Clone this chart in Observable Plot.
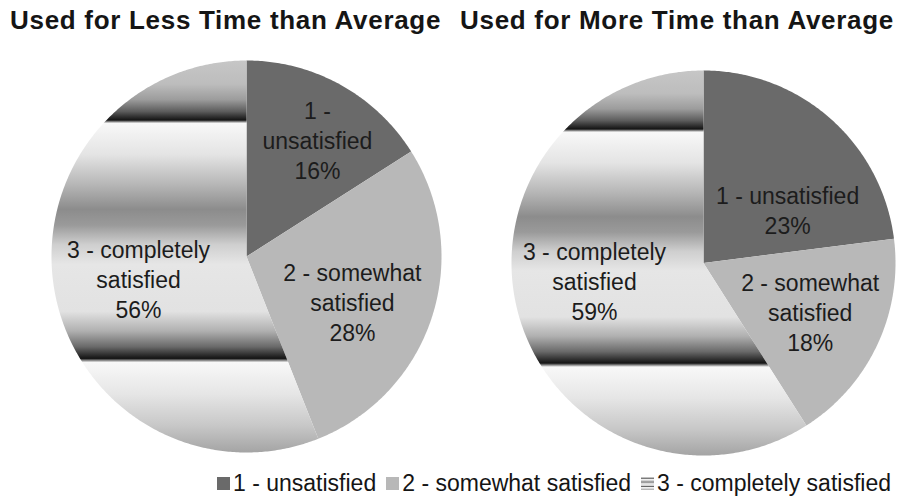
<!DOCTYPE html>
<html>
<head>
<meta charset="utf-8">
<script src="https://cdn.jsdelivr.net/npm/d3@7"></script>
<script src="https://cdn.jsdelivr.net/npm/@observablehq/plot@0.6"></script>
<style>
  body { margin: 0; background: #fff; font-family: "Liberation Sans", Arial, sans-serif; }
  #wrap { position: relative; width: 913px; height: 502px; overflow: hidden; background: #fff; }
  .title { position: absolute; top: 5px; line-height: 30px; font-weight: bold; font-size: 26px; letter-spacing: 0.7px; color: #151515; white-space: nowrap; }
  .pie { position: absolute; top: 40px; }
  #legend { position: absolute; top: 469px; left: 217px; display: flex; align-items: center; font-size: 23px; color: #151515; white-space: nowrap; line-height: 28px; }
  #legend .item { display: flex; align-items: center; margin-right: 10px; }
  #legend svg { margin-right: 3px; }
</style>
</head>
<body>
<div id="wrap"></div>
<script>
// ---- data ----
const categories = ["1 - unsatisfied", "2 - somewhat satisfied", "3 - completely satisfied"];
const titles = ["Used for Less Time than Average", "Used for More Time than Average"];
const lessValues = [16, 28, 56];
const moreValues = [23, 18, 59];
const lessLabels = ["1 -\nunsatisfied", "2 - somewhat\nsatisfied", "3 - completely\nsatisfied"];
const moreLabels = ["1 - unsatisfied", "2 - somewhat\nsatisfied", "3 - completely\nsatisfied"];

// ---- styling / layout ----
const solidColors = ["#6a6a6a", "#b8b8b8"];
const chromeStops = [
  [0.00, "#c6c6c6"], [0.06, "#bdbdbd"], [0.10, "#9c9c9c"], [0.13, "#5c5c5c"],
  [0.152, "#141414"], [0.160, "#f8f8f8"], [0.24, "#e4e4e4"], [0.32, "#b4b4b4"],
  [0.38, "#8c8c8c"], [0.42, "#9a9a9a"], [0.47, "#cfcfcf"], [0.52, "#e6e6e6"],
  [0.64, "#e2e2e2"], [0.69, "#b0b0b0"], [0.73, "#6a6a6a"], [0.760, "#141414"],
  [0.770, "#f8f8f8"], [0.85, "#e6e6e6"], [0.93, "#c8c8c8"], [1.00, "#a4a4a4"]
];
// label placement: [radius fraction, angle shift in degrees from slice middle]
const lessPlace = [[0.70, 2.5], [0.59, 5], [0.565, -0.7]];
const morePlace = [[0.52, 16], [0.61, -0.8], [0.575, 7]];

const wrap = document.getElementById("wrap");

function gradientMark(id) {
  return () => {
    const defs = d3.create("svg:defs");
    const g = defs.append("linearGradient").attr("id", id)
      .attr("x1", 0).attr("y1", 0).attr("x2", 0).attr("y2", 1);
    chromeStops.forEach(([o, c]) => g.append("stop").attr("offset", o).attr("stop-color", c));
    return defs.node();
  };
}

function makePie(values, labels, place, gradId, xRange, yRange) {
  const arcs = d3.pie().sort(null).value(d => d)(values);
  const poly = [];
  const labelData = [];
  arcs.forEach((a, i) => {
    const cat = categories[i];
    poly.push({cat, x: 0, y: 0});
    const span = a.endAngle - a.startAngle;
    const n = Math.max(2, Math.ceil(span / 0.01));
    for (let k = 0; k <= n; k++) {
      const t = a.startAngle + span * k / n;
      poly.push({cat, x: Math.sin(t), y: Math.cos(t)});
    }
    poly.push({cat, x: 0, y: 0});
    const [rf, shift] = place[i];
    const m = (a.startAngle + a.endAngle) / 2 + shift * Math.PI / 180;
    labelData.push({x: rf * Math.sin(m), y: rf * Math.cos(m), text: labels[i] + "\n" + values[i] + "%"});
  });
  return Plot.plot({
    width: 456,
    height: 425,
    margin: 0,
    style: {background: "transparent", overflow: "visible"},
    x: {domain: [-1, 1], range: xRange, axis: null},
    y: {domain: [-1, 1], range: yRange, axis: null},
    color: {type: "ordinal", domain: categories, range: [...solidColors, `url(#${gradId})`]},
    marks: [
      gradientMark(gradId),
      Plot.line(poly, {x: "x", y: "y", z: "cat", fill: "cat", stroke: "none", curve: "linear"}),
      Plot.text(labelData, {
        x: "x", y: "y", text: "text",
        fontSize: 23, lineHeight: 1.3, fill: "#1c1c1c",
        fontFamily: "Liberation Sans, Arial, sans-serif"
      })
    ]
  });
}

// titles
[[titles[0], 10], [titles[1], 460]].forEach(([t, left]) => {
  const d = document.createElement("div");
  d.className = "title";
  d.style.left = left + "px";
  d.textContent = t;
  wrap.appendChild(d);
});

const p1 = makePie(lessValues, lessLabels, lessPlace, "chromeL", [51, 441], [412, 20]);
p1.classList.add("pie"); p1.style.left = "0px";
wrap.appendChild(p1);

const p2 = makePie(moreValues, moreLabels, morePlace, "chromeR", [55, 439], [415, 30]);
p2.classList.add("pie"); p2.style.left = "456px";
wrap.appendChild(p2);

// legend
const legend = document.createElement("div");
legend.id = "legend";
const swatchFills = [...solidColors, "url(#chromeLeg)"];
categories.forEach((c, i) => {
  const item = document.createElement("div");
  item.className = "item";
  const sw = d3.create("svg").attr("width", 13).attr("height", 13);
  if (i === 2) {
    const g = sw.append("defs").append("linearGradient").attr("id", "chromeLeg")
      .attr("x1", 0).attr("y1", 0).attr("x2", 0).attr("y2", 1);
    chromeStops.forEach(([o, col]) => g.append("stop").attr("offset", o).attr("stop-color", col));
  }
  sw.append("rect").attr("width", 13).attr("height", 13).attr("fill", swatchFills[i]);
  item.appendChild(sw.node());
  const span = document.createElement("span");
  span.textContent = c;
  item.appendChild(span);
  legend.appendChild(item);
});
wrap.appendChild(legend);
</script>
</body>
</html>
